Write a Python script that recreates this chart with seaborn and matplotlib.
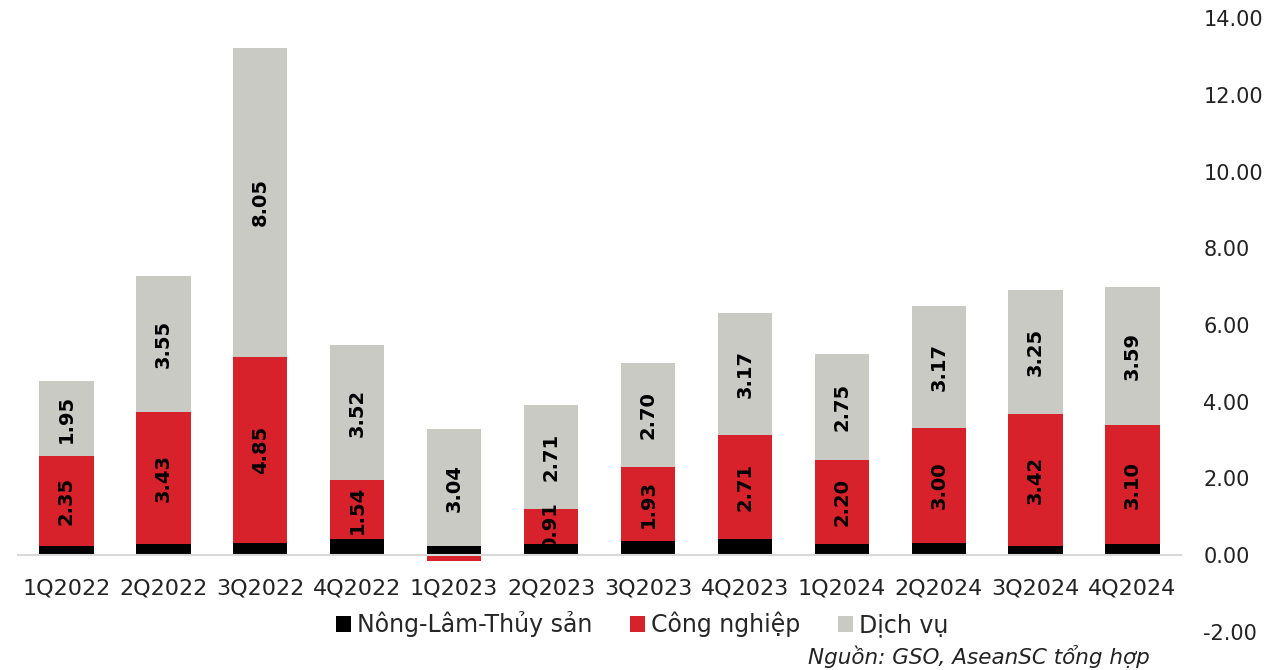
import numpy as np
import pandas as pd
import seaborn as sns
import matplotlib
matplotlib.use("Agg")
import matplotlib.pyplot as plt
from matplotlib.patches import Patch

quarters = ["1Q2022", "2Q2022", "3Q2022", "4Q2022", "1Q2023", "2Q2023",
            "3Q2023", "4Q2023", "1Q2024", "2Q2024", "3Q2024", "4Q2024"]
nong_lam = [0.23, 0.29, 0.32, 0.42, 0.24, 0.30, 0.37, 0.43, 0.29, 0.32, 0.25, 0.29]
cong_nghiep = [2.35, 3.43, 4.85, 1.54, -0.15, 0.91, 1.93, 2.71, 2.20, 3.00, 3.42, 3.10]
dich_vu = [1.95, 3.55, 8.05, 3.52, 3.04, 2.71, 2.70, 3.17, 2.75, 3.17, 3.25, 3.59]

series_names = ["Nông-Lâm-Thủy sản", "Công nghiệp", "Dịch vụ"]
colors = ["#000000", "#D7222B", "#CACAC5"]
y_ticks = [-2, 0, 2, 4, 6, 8, 10, 12, 14]

sns.set_theme(style="white")
plt.rcParams["font.family"] = ["DejaVu Sans"]

fig = plt.figure(figsize=(12.71, 6.70), dpi=100)
ax = fig.add_axes([18 / 1271, 38 / 670, (1181 - 18) / 1271, (632 - 18) / 670])

# stacked layout: positive values stack upwards, negative ones downwards
values = np.array([nong_lam, cong_nghiep, dich_vu])
pos_base = np.zeros(len(quarters))
neg_base = np.zeros(len(quarters))
bottoms = []
for row in values:
    b = np.where(row >= 0, pos_base, neg_base)
    bottoms.append(b.copy())
    pos_base = pos_base + np.where(row >= 0, row, 0)
    neg_base = neg_base + np.where(row < 0, row, 0)

for name, row, base, col in zip(series_names, values, bottoms, colors):
    df = pd.DataFrame({"quarter": quarters, "value": row})
    sns.barplot(data=df, x="quarter", y="value", bottom=base, color=col,
                width=0.56, ax=ax, saturation=1, linewidth=0)

# value labels inside the industry and service segments
for i in range(len(quarters)):
    for k in (1, 2):
        v = values[k][i]
        if v <= 0:
            continue
        yc = bottoms[k][i] + v / 2
        ax.text(i, yc, f"{v:.2f}", rotation=90, ha="center", va="center",
                fontsize=14, fontweight="bold", color="black")

ax.set_xlim(-0.5, len(quarters) - 0.5)
ax.set_ylim(-2, 14)
ax.set_xlabel("")
ax.set_ylabel("")

ax.yaxis.tick_right()
ax.set_yticks(y_ticks)
ax.set_yticklabels([f"{t:.2f}" for t in y_ticks], fontsize=15, color="#222222")
ax.tick_params(axis="y", length=0, pad=16)

for s in ("top", "left", "right"):
    ax.spines[s].set_visible(False)
ax.spines["bottom"].set_position(("data", 0))
ax.spines["bottom"].set_color("#D9D9D9")
ax.spines["bottom"].set_linewidth(1.5)
ax.tick_params(axis="x", length=0, pad=17, labelsize=16, labelcolor="#222222")
ax.grid(False)

handles = [Patch(facecolor=c, edgecolor="none") for c in colors]
ax.legend(handles, series_names, loc="center", bbox_to_anchor=(642 / 1271, 1 - 624 / 670),
          bbox_transform=fig.transFigure, ncol=3, frameon=False, fontsize=17,
          handlelength=0.64, handleheight=0.64, handletextpad=0.25, columnspacing=1.6)

fig.text(1150 / 1271, 1 - 657 / 670, "Nguồn: GSO, AseanSC tổng hợp", ha="right", va="center",
         fontsize=15.5, fontstyle="italic", color="#222222")

fig.savefig("out.png", dpi=100)
